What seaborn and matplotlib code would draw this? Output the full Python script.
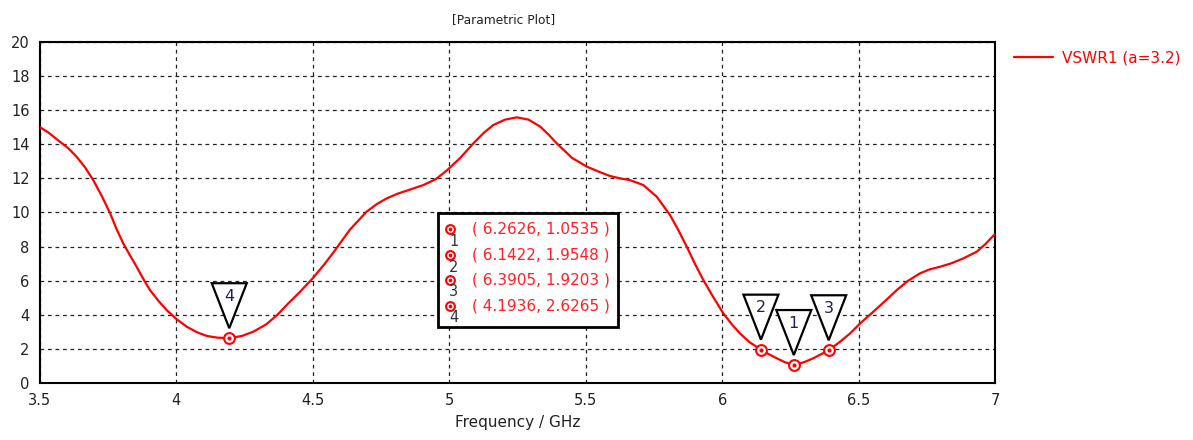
import numpy as np
import matplotlib
matplotlib.use("Agg")
import matplotlib.pyplot as plt
import matplotlib.transforms as mtransforms
from matplotlib.patches import Polygon, Rectangle
import seaborn as sns
import pandas as pd

# curve
freq = [3.5, 3.53, 3.573, 3.605, 3.634, 3.665, 3.695, 3.727, 3.757, 3.78, 3.805, 3.83,
        3.854, 3.878, 3.903, 3.934, 3.964, 4.0, 4.038, 4.075, 4.111, 4.15, 4.1936,
        4.24, 4.282, 4.33, 4.37, 4.41, 4.453, 4.5, 4.544, 4.575, 4.636, 4.697, 4.735,
        4.771, 4.81, 4.844, 4.905, 4.95, 4.99, 5.04, 5.088, 5.125, 5.161, 5.205, 5.247,
        5.29, 5.333, 5.365, 5.394, 5.45, 5.504, 5.55, 5.589, 5.626, 5.662, 5.711, 5.76,
        5.809, 5.84, 5.87, 5.9, 5.931, 5.967, 6.004, 6.035, 6.065, 6.1, 6.1422, 6.17,
        6.2, 6.23, 6.2626, 6.3, 6.334, 6.3905, 6.432, 6.469, 6.506, 6.554, 6.6, 6.64,
        6.68, 6.725, 6.76, 6.799, 6.84, 6.884, 6.933, 6.965, 7.0]
vswr = [15.0, 14.7, 14.15, 13.75, 13.27, 12.65, 11.9, 10.95, 9.95, 9.05, 8.19, 7.48,
        6.82, 6.12, 5.45, 4.82, 4.28, 3.75, 3.30, 2.98, 2.76, 2.66, 2.6265,
        2.76, 3.01, 3.45, 4.0, 4.67, 5.35, 6.15, 7.0, 7.65, 9.0, 10.05, 10.5,
        10.83, 11.1, 11.28, 11.61, 11.95, 12.45, 13.2, 14.05, 14.65, 15.13, 15.45, 15.58,
        15.45, 15.04, 14.55, 14.05, 13.2, 12.69, 12.38, 12.14, 12.0, 11.9, 11.61, 10.93,
        9.85, 8.95, 8.0, 7.0, 6.04, 5.05, 4.09, 3.45, 2.91, 2.4, 1.9548, 1.7,
        1.45, 1.22, 1.0535, 1.22, 1.45, 1.9203, 2.42, 2.91, 3.5, 4.18, 4.85, 5.45,
        5.98, 6.43, 6.66, 6.82, 7.02, 7.31, 7.7, 8.15, 8.74]

marker_ids = ["1", "2", "3", "4"]
marker_x = [6.2626, 6.1422, 6.3905, 4.1936]
marker_y = [1.0535, 1.9548, 1.9203, 2.6265]
x_ticks = [3.5, 4, 4.5, 5, 5.5, 6, 6.5, 7]
y_ticks = list(range(0, 21, 2))

df = pd.DataFrame({"freq": freq, "vswr": vswr})

sns.set_style("white")
plt.rcParams["font.family"] = ["DejaVu Sans"]
plt.rcParams["font.size"] = 10

fig = plt.figure(figsize=(11.93, 4.40), dpi=100)
ax = fig.add_axes([40 / 1193, 57 / 440, 955 / 1193, 341 / 440])

sns.lineplot(data=df, x="freq", y="vswr", ax=ax, color="red", lw=1.6,
             label="VSWR1 (a=3.2)", zorder=3, solid_joinstyle="round")

ax.set_xlim(3.5, 7)
ax.set_ylim(0, 20)
ax.set_xticks(x_ticks)
ax.set_xticklabels([f"{t:g}" for t in x_ticks])
ax.set_yticks(y_ticks)
ax.grid(True, color="#222222", ls=(0, (3, 3)), lw=0.9)
ax.tick_params(direction="out", length=4, width=1, colors="#222222", labelsize=10.5)
for s in ax.spines.values():
    s.set_color("black")
    s.set_linewidth(1.5)
ax.set_xlabel("Frequency / GHz", fontsize=11, labelpad=5, color="#222222")
ax.set_ylabel("")

fig.text(504 / 1193, 1 - 20 / 440, "[Parametric Plot]", ha="center", va="center",
         fontsize=8.8, color="#222222")

ax.legend(loc="upper left", bbox_to_anchor=(1.005, 1.015), frameon=False,
          labelcolor="red", fontsize=11, handlelength=2.6, handletextpad=0.6)

# marker circles
ax.scatter(marker_x, marker_y, s=60, facecolor="white", edgecolor="red", lw=1.5, zorder=5)
ax.scatter(marker_x, marker_y, s=4, color="red", zorder=6)

# inverted triangle flags (pixel offsets from marker point)
tri = [(-17.5, 55), (17.5, 55), (0, 10)]
for mid, mx, my in zip(marker_ids, marker_x, marker_y):
    tr = mtransforms.Affine2D() + mtransforms.ScaledTranslation(mx, my, ax.transData)
    poly = Polygon(tri, closed=True, facecolor="white", edgecolor="black", lw=1.6,
                   transform=tr, zorder=7, clip_on=False)
    ax.add_patch(poly)
    ax.text(0, 42, mid, transform=tr, ha="center", va="center", fontsize=11.5,
            color="#202050", zorder=8)

# marker value table
ax.add_patch(Rectangle((398 / 955, 56 / 341), 180 / 955, 114 / 341, transform=ax.transAxes,
                       facecolor="white", edgecolor="black", lw=2, zorder=9))
row_px = [229, 255, 280, 306]
for mid, mx, my, py in zip(marker_ids, marker_x, marker_y, row_px):
    yf = (383 - py) / 341
    ax.scatter([410 / 955], [yf], s=40, facecolor="white", edgecolor="red", lw=1.5,
               transform=ax.transAxes, zorder=10)
    ax.scatter([410 / 955], [yf], s=3, color="red", transform=ax.transAxes, zorder=11)
    ax.text(414 / 955, yf - 12 / 341, mid, transform=ax.transAxes, ha="center",
            va="center", fontsize=10.5, color="#333333", zorder=11)
    ax.text(432 / 955, yf, f"( {mx:.4f}, {my:.4f} )", transform=ax.transAxes,
            ha="left", va="center", fontsize=11, color="#ff2020", zorder=11)

fig.savefig("out.png", dpi=100)
